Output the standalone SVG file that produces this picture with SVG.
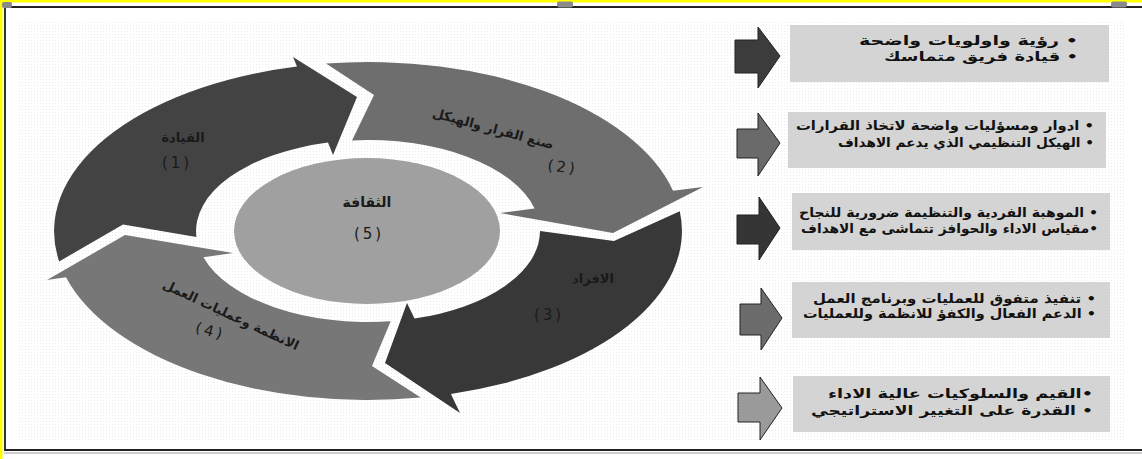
<svg xmlns="http://www.w3.org/2000/svg" width="1142" height="459" viewBox="0 0 1142 459">
<defs>
<pattern id="dots" width="3" height="3" patternUnits="userSpaceOnUse"><rect width="3" height="3" fill="#ffffff"/><rect x="1" y="1" width="1" height="1" fill="#ececec"/></pattern>
<style>
.lbl{font-family:"DejaVu Sans",sans-serif;font-weight:bold;fill:#1a1a1a;text-anchor:middle}
.num{font-family:"DejaVu Sans",sans-serif;fill:#1a1a1a;text-anchor:middle;font-size:15px;letter-spacing:3px}
.bx{fill:#d4d4d4}
.bt{font-family:"DejaVu Sans",sans-serif;font-weight:bold;font-size:13px;fill:#111;text-anchor:end}
.ba{stroke:#222;stroke-width:1}
</style>
</defs>
<rect width="1142" height="459" fill="#ffffff"/>
<rect x="18" y="20" width="1106" height="422" fill="url(#dots)"/>
<!-- frame -->
<rect x="0" y="0" width="1142" height="2.5" fill="#ffff00"/>
<rect x="0" y="0" width="2.5" height="459" fill="#ffff00"/>
<line x1="4" y1="7" x2="1142" y2="7" stroke="#222" stroke-width="2"/>
<line x1="5" y1="7" x2="5" y2="451" stroke="#333" stroke-width="2"/>
<line x1="4" y1="450" x2="1142" y2="450" stroke="#222" stroke-width="2"/>
<line x1="4" y1="453" x2="1142" y2="453" stroke="#999" stroke-width="1"/>
<rect x="2" y="2" width="10" height="6" rx="2" fill="#8a8a8a"/>
<rect x="557" y="1.5" width="16" height="6" rx="2" fill="#8a8a8a"/>
<rect x="1111" y="1.5" width="16" height="6" rx="2" fill="#8a8a8a"/>

<g id="ring-1">
<path d="M 59.15 261.45 A 314 169 0 0 1 297 66.5 L 293 57 L 357 97 L 333 155 L 328 142.6 A 172 91 0 0 0 196.4 236.9 L 123 224.5 Z" fill="#434343"/>
<text class="lbl" x="183" y="142" font-size="13">القيادة</text>
<text class="num" x="177" y="168">(1)</text>
</g>
<g id="ring-2">
<path d="M 326 63.45 A 314 169 0 0 1 673 190.8 L 703 187 L 613 233 L 500 213 L 534.6 208.5 A 172 91 0 0 0 352 140.4 L 374 95 Z" fill="#6e6e6e"/>
<text class="lbl" font-size="13" transform="translate(492 133) rotate(15)">صنع القرار والهيكل</text>
<text class="num" transform="translate(562 172) rotate(8)">(2)</text>
</g>
<g id="ring-3">
<path d="M 679.8 211.3 A 314 169 0 0 1 450.9 394 L 460 413 L 385 363 L 407 303 L 414.5 318.6 A 172 91 0 0 0 540 231 L 614 241 Z" fill="#383838"/>
<text class="lbl" x="593" y="283" font-size="13">الافراد</text>
<text class="num" x="549" y="320">(3)</text>
</g>
<g id="ring-4">
<path d="M 420.7 397.6 A 314 169 0 0 1 66 277.25 L 47 280 L 125 235 L 233 253 L 203.4 257.3 A 172 91 0 0 0 390.7 321.2 L 372 366 Z" fill="#777777"/>
<text class="lbl" font-size="13" transform="translate(229 319) rotate(25)">الانظمة وعمليات العمل</text>
<text class="num" transform="translate(209 336) rotate(15)">(4)</text>
</g>
<g id="center-5">
<ellipse cx="367" cy="231" rx="133" ry="73" fill="#a0a0a0"/>
<text class="lbl" x="367" y="207" font-size="14">الثقافة</text>
<text class="num" x="369" y="239">(5)</text>
</g>

<g id="connectors">
<polygon class="ba" fill="#3c3c3c" points="735,40 758,40 758,27 780,56 758,88 758,73 735,73"/>
<polygon class="ba" fill="#6a6a6a" points="737,129 758,129 758,113 780,143 758,176 758,158 737,158"/>
<polygon class="ba" fill="#353535" points="737,215 759,215 759,197 780,228 759,260 759,244 737,244"/>
<polygon class="ba" fill="#6c6c6c" points="740,304 761,304 761,288 782,318 761,350 761,335 740,335"/>
<polygon class="ba" fill="#9a9a9a" points="738,393 760,393 760,377 782,408 760,440 760,422 738,422"/>
</g>

<g id="box-1">
<rect class="bx" x="790" y="25" width="319" height="57"/>
<text class="bt" x="1078" y="45" font-size="14" textLength="219" lengthAdjust="spacingAndGlyphs">رؤية واولويات واضحة •</text>
<text class="bt" x="1078" y="61" font-size="14" textLength="194" lengthAdjust="spacingAndGlyphs">قيادة فريق متماسك •</text>
</g>
<g id="box-2">
<rect class="bx" x="788" y="112" width="318" height="56"/>
<text class="bt" x="1094" y="130" textLength="298" lengthAdjust="spacingAndGlyphs">ادوار ومسؤليات واضحة لاتخاذ القرارات •</text>
<text class="bt" x="1094" y="147" textLength="256" lengthAdjust="spacingAndGlyphs">الهيكل التنظيمي الذي يدعم الاهداف •</text>
</g>
<g id="box-3">
<rect class="bx" x="792" y="193" width="318" height="57"/>
<text class="bt" x="1098" y="217" textLength="299" lengthAdjust="spacingAndGlyphs">الموهبة الفردية والتنظيمة ضرورية للنجاح •</text>
<text class="bt" x="1098" y="233" textLength="297" lengthAdjust="spacingAndGlyphs">مقياس الاداء والحوافز تتماشى مع الاهداف•</text>
</g>
<g id="box-4">
<rect class="bx" x="792" y="282" width="318" height="56"/>
<text class="bt" x="1096" y="303" textLength="283" lengthAdjust="spacingAndGlyphs">تنفيذ متفوق للعمليات وبرنامج العمل •</text>
<text class="bt" x="1096" y="318" textLength="293" lengthAdjust="spacingAndGlyphs">الدعم الفعال والكفؤ للانظمة وللعمليات •</text>
</g>
<g id="box-5">
<rect class="bx" x="793" y="376" width="317" height="56"/>
<text class="bt" x="1093" y="398" textLength="265" lengthAdjust="spacingAndGlyphs">القيم والسلوكيات عالية الاداء•</text>
<text class="bt" x="1093" y="415" textLength="282" lengthAdjust="spacingAndGlyphs">القدرة على التغيير الاستراتيجي •</text>
</g>
</svg>
